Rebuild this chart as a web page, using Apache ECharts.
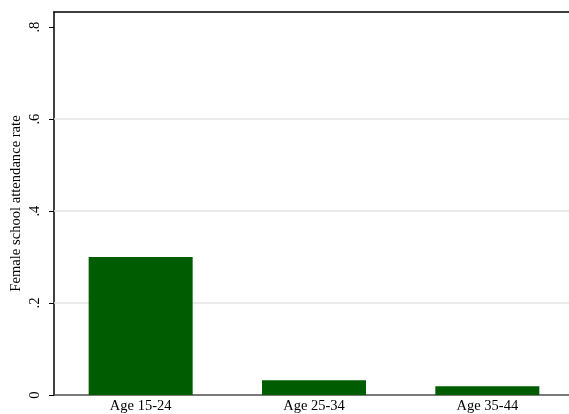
<!DOCTYPE html>
<html>
<head>
<meta charset="utf-8">
<script src="https://cdn.jsdelivr.net/npm/echarts@6/dist/echarts.min.js"></script>
<style>html,body{margin:0;padding:0;background:#fff}#c{width:569px;height:414px}</style>
</head>
<body>
<div id="c"></div>
<script>
var categories = ['Age 15-24', 'Age 25-34', 'Age 35-44'];
var attendance = [0.300, 0.032, 0.019];
var tickValues = [0, 0.2, 0.4, 0.6, 0.8];
var tickLabels = ['0', '.2', '.4', '.6', '.8'];
var gridValues = [0.2, 0.4, 0.6];
var yTitle = 'Female school attendance rate';

var font = 'Liberation Serif';
var chart = echarts.init(document.getElementById('c'), null, {renderer: 'canvas'});
chart.setOption({
  animation: false,
  backgroundColor: '#fff',
  grid: {left: 54, top: 12, width: 520, height: 383, containLabel: false, outerBoundsMode: 'none'},
  xAxis: [{
    type: 'category',
    data: categories,
    position: 'bottom',
    axisLine: {lineStyle: {color: '#4d4d4d', width: 1.5}},
    axisTick: {show: false},
    axisLabel: {fontFamily: font, fontSize: 14.5, color: '#000', margin: 4},
    splitLine: {show: false}
  }, {
    type: 'category',
    data: categories,
    position: 'top',
    axisLine: {lineStyle: {color: '#000', width: 1.5}},
    axisTick: {show: false},
    axisLabel: {show: false},
    splitLine: {show: false}
  }],
  yAxis: {
    type: 'value',
    min: 0,
    max: 0.833,
    name: yTitle,
    nameLocation: 'middle',
    nameGap: 30,
    nameMoveOverlap: false,
    nameTextStyle: {fontFamily: font, fontSize: 14.6, color: '#000'},
    axisLine: {show: true, lineStyle: {color: '#000', width: 1.5}},
    axisTick: {show: true, length: 5, lineStyle: {color: '#000', width: 1}, customValues: tickValues},
    axisLabel: {
      rotate: 90, margin: 11, fontFamily: font, fontSize: 14.5, color: '#000',
      customValues: tickValues,
      formatter: function (v) {
        for (var i = 0; i < tickValues.length; i++) if (Math.abs(tickValues[i] - v) < 1e-9) return tickLabels[i];
        return '';
      }
    },
    splitLine: {show: false}
  },
  series: [{
    type: 'line',
    data: [],
    z: 1,
    silent: true,
    markLine: {
      z: 1,
      silent: true,
      symbol: ['none', 'none'],
      label: {show: false},
      lineStyle: {color: '#e3e3e3', width: 1.5, type: 'solid'},
      data: gridValues.map(function (v) { return {yAxis: v}; })
    }
  }, {
    type: 'bar',
    data: attendance,
    z: 3,
    barWidth: 104,
    itemStyle: {color: '#005c00'}
  }]
});
</script>
</body>
</html>
